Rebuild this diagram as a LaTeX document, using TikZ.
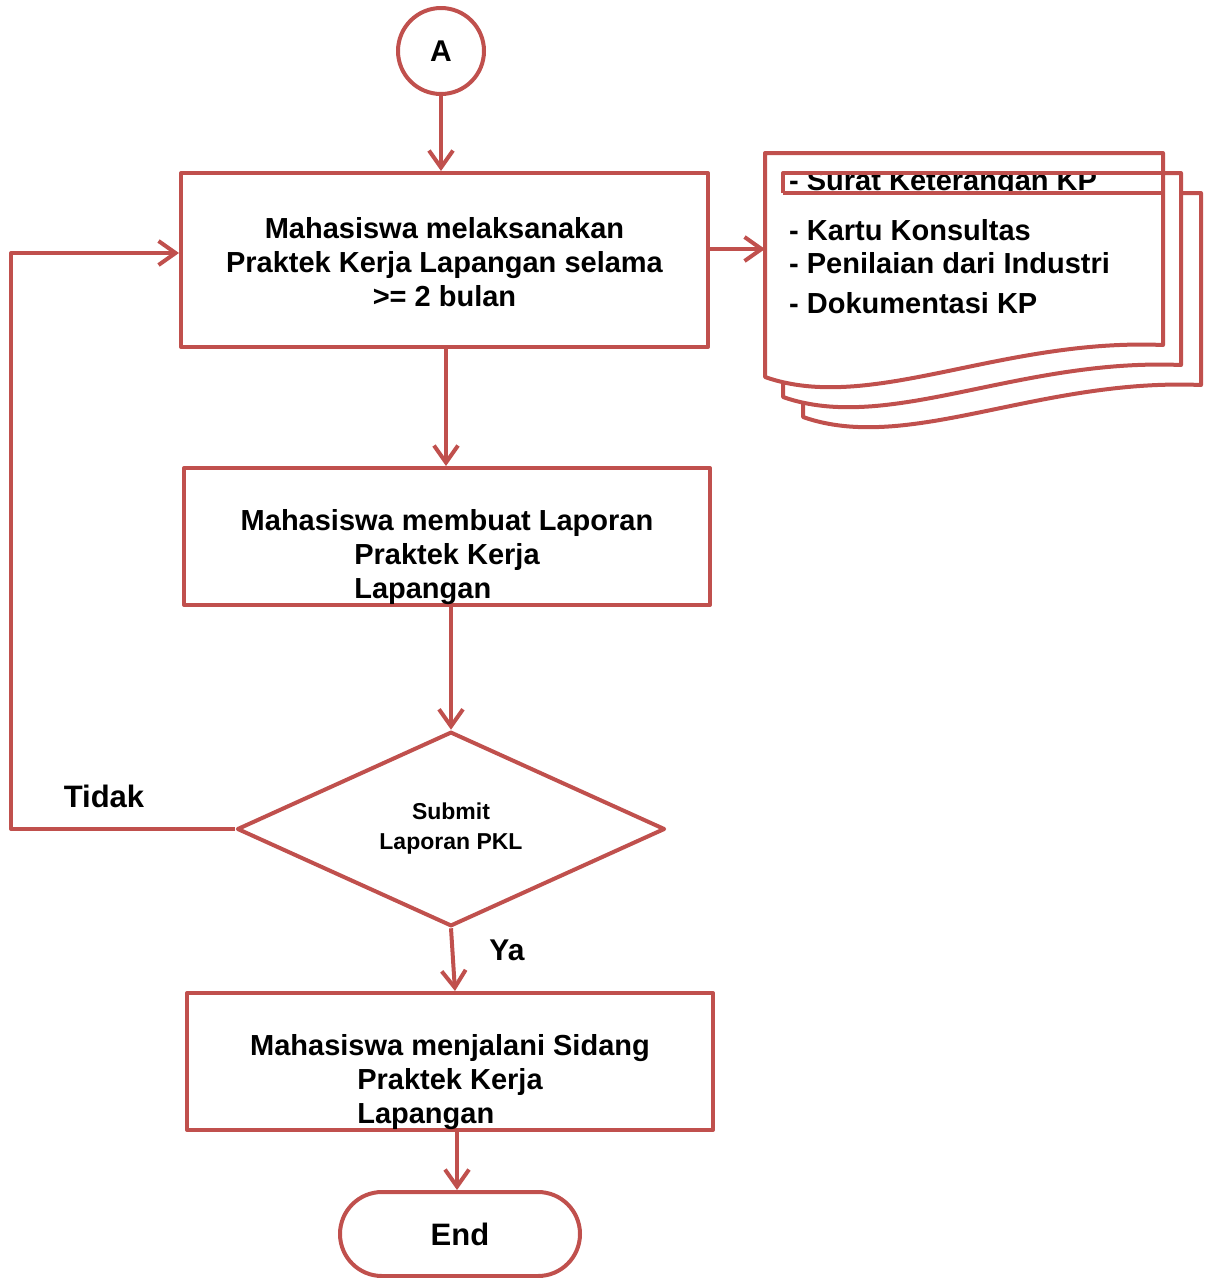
\documentclass[tikz,border=0pt]{standalone}
\usepackage{fontspec}
\setmainfont{Liberation Sans}
\usetikzlibrary{arrows.meta,shapes.geometric}
\definecolor{fred}{HTML}{C0504D}
\begin{document}
\begin{tikzpicture}[x=1pt,y=-1pt,
  redline/.style={draw=fred, line width=4pt, line join=round},
  arr/.style={redline, -{Straight Barb[length=17pt,width=24pt]}},
  boxshape/.style={redline, fill=white, inner sep=0pt},
  txt/.style={font=\bfseries\fontsize{29}{34}\selectfont, inner sep=0pt, align=center},
  doctxt/.style={font=\bfseries\fontsize{29}{34}\selectfont, inner sep=0pt, anchor=base west},
  page/.style={redline, fill=white}
]
\useasboundingbox (0,0) rectangle (1206,1278);

% start connector
\node[redline, circle, minimum size=86pt, inner sep=0pt, font=\bfseries\fontsize{30}{34}\selectfont] (A) at (441,51) {A};

% boxes
\node[boxshape, minimum width=527pt, minimum height=174pt] (b1) at (444.5,260) {};
\node[txt] (t1) at (444.5,262) {Mahasiswa melaksanakan\\Praktek Kerja Lapangan selama\\>= 2 bulan};

\node[boxshape, minimum width=526pt, minimum height=137pt] (b2) at (447,536.5) {};
\node[txt] (t2) at (447,558) {\begin{tabular}{@{}c@{}}Mahasiswa membuat Laporan\\ \begin{tabular}{@{}l@{}}Praktek Kerja\\Lapangan\end{tabular}\end{tabular}};

\node[redline, diamond, minimum width=428pt, minimum height=192pt, inner sep=0pt,
      font=\bfseries\fontsize{23}{29}\selectfont, align=center] (d) at (451,829) {\raisebox{3pt}{Submit}\\[-2pt]Laporan PKL};

\node[boxshape, minimum width=526pt, minimum height=137pt] (b3) at (450,1061.5) {};
\node[txt] (t3) at (450,1083) {\begin{tabular}{@{}c@{}}Mahasiswa menjalani Sidang\\ \begin{tabular}{@{}l@{}}Praktek Kerja\\Lapangan\end{tabular}\end{tabular}};

\node[redline, rounded corners=42pt, minimum width=240pt, minimum height=84pt, inner sep=0pt,
      font=\bfseries\fontsize{31}{34}\selectfont] (e) at (460,1234) {End};

% labels
\node[txt, font=\bfseries\fontsize{31}{34}\selectfont] (tidak) at (104,796) {Tidak};
\node[txt, font=\bfseries\fontsize{30}{34}\selectfont] (ya) at (507,950) {Ya};

% multi document
\path[page, shift={(38,40)}] (765,153) -- (1163,153) -- (1163,345)
  .. controls (1000,338) and (870,414) .. (765,377) -- cycle;
\path[page, shift={(18,20)}] (765,153) -- (1163,153) -- (1163,345)
  .. controls (1000,338) and (870,414) .. (765,377) -- cycle;
\path[page] (765,153) -- (1163,153) -- (1163,345)
  .. controls (1000,338) and (870,414) .. (765,377) -- cycle;
\coordinate (docin) at (765,249);

\begin{scope}
  \clip (783,175) rectangle (1163,193);
  \node[doctxt] (dt1) at (789,190) {- Surat Keterangan KP};
\end{scope}
\draw[redline] (783,193) -- (783,173) -- (1163,173);
\draw[redline] (783,193) -- (1163,193);
\node[doctxt] (dt2) at (789,240) {- Kartu Konsultas};
\node[doctxt] (dt3) at (789,273) {- Penilaian dari Industri};
\node[doctxt] (dt4) at (789,313) {- Dokumentasi KP};

% connectors
\coordinate (lp1) at (11,829);
\draw[arr] (A.south) -- (A.south |- b1.north);
\draw[arr] (b1.east |- docin) -- (docin);
\draw[arr] ([xshift=1.5pt]b1.south) -- ([xshift=1.5pt]b1.south |- b2.north);
\draw[arr] (b2.south -| d.north) -- (d.north);
\draw[arr] (d.south) -- ([xshift=4pt]b3.north -| d.south);
\draw[arr] ([xshift=7pt]b3.south) -- ([xshift=7pt]b3.south |- e.north);
\draw[arr] (d.west) -- (lp1) |- ([yshift=7pt]b1.west);

\end{tikzpicture}
\end{document}
